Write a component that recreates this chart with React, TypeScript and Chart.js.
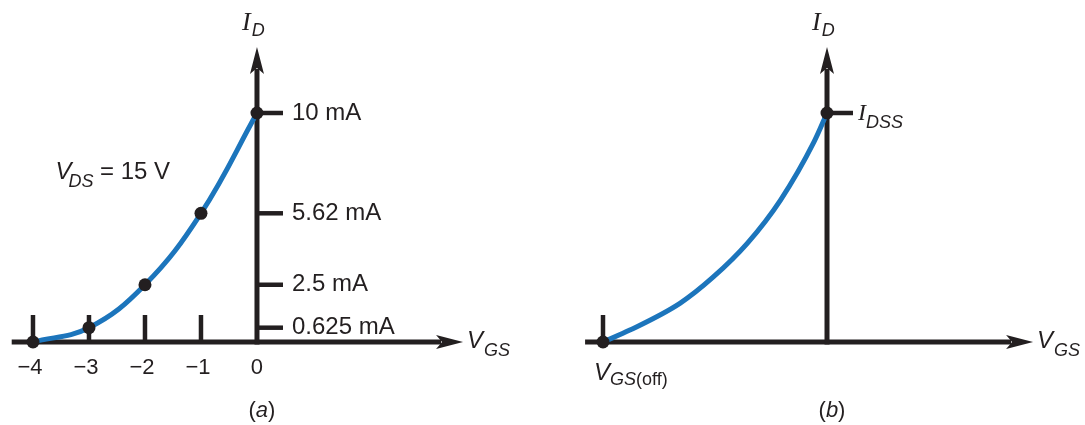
import React, { useEffect, useRef } from "react";
import { Chart, registerables } from "chart.js";

Chart.register(...registerables);

// ---------- data ----------
// (a) transfer characteristic, VDS = 15 V
const vgsA = [-4, -3, -2, -1, 0];
const idA = [0, 0.625, 2.5, 5.62, 10];
const markA = [true, true, true, true, true];
const xTicksA = [-4, -3, -2, -1];
const xTickLabelValuesA = [-4, -3, -2, -1, 0];
const xTickLabelsA = ["−4", "−3", "−2", "−1", "0"];
const yTicksA = [0.625, 2.5, 5.62, 10];
const yTickLabelsA = ["0.625 mA", "2.5 mA", "5.62 mA", "10 mA"];

// (b) generic curve (VGS(off) .. 0 on the same scale)
const vgsB = [-4, -3.52, -2.62, -2.03, -1.42, -0.83, -0.23, 0];
const idB = [0, 0.52, 1.7, 2.84, 4.32, 6.2, 8.75, 10];
const markB = [true, false, false, false, false, false, false, true];
const xTicksB = [-4];
const yTicksB = [10];

const INK = "#231f20";
const BLUE = "#1c75bc";
const SANS = '"Liberation Sans", Arial, Helvetica, sans-serif';
const SERIF = '"Liberation Serif", "Times New Roman", serif';

type Seg = { t: string; font: string; dy?: number; dx?: number };

function drawRich(ctx: CanvasRenderingContext2D, x: number, y: number, segs: Seg[]) {
  let cx = x;
  for (const s of segs) {
    ctx.font = s.font;
    cx += s.dx || 0;
    ctx.fillText(s.t, cx, y + (s.dy || 0));
    cx += ctx.measureText(s.t).width;
  }
  return cx;
}

function arrow(ctx: CanvasRenderingContext2D, x: number, y: number, dir: "up" | "right") {
  ctx.beginPath();
  if (dir === "right") {
    ctx.moveTo(x, y);
    ctx.lineTo(x - 27, y - 7);
    ctx.lineTo(x - 21, y);
    ctx.lineTo(x - 27, y + 7);
  } else {
    ctx.moveTo(x, y);
    ctx.lineTo(x - 7, y + 27);
    ctx.lineTo(x, y + 21);
    ctx.lineTo(x + 7, y + 27);
  }
  ctx.closePath();
  ctx.fill();
}

type Spec = {
  panel: "a" | "b";
  xAxisStart: number;
  xAxisEnd: number;
  yAxisEnd: number;
  xTicks: number[];
  yTicks: number[];
};

function axesPlugin(spec: Spec) {
  return {
    id: "axes" + spec.panel,
    beforeDatasetsDraw(chart: any) {
      const ctx: CanvasRenderingContext2D = chart.ctx;
      const xs = chart.scales.x;
      const ys = chart.scales.y;
      const X = (v: number) => xs.getPixelForValue(v);
      const Y = (v: number) => ys.getPixelForValue(v);
      ctx.save();
      ctx.strokeStyle = INK;
      ctx.fillStyle = INK;
      ctx.lineCap = "butt";
      const x0 = X(0);
      const y0 = Y(0);
      const xStart = X(spec.xAxisStart);
      const xEnd = X(spec.xAxisEnd);
      const yEnd = Y(spec.yAxisEnd);

      // axes
      ctx.lineWidth = 5;
      ctx.beginPath();
      ctx.moveTo(xStart, y0);
      ctx.lineTo(xEnd - 22, y0);
      ctx.stroke();
      arrow(ctx, xEnd, y0, "right");
      ctx.beginPath();
      ctx.moveTo(x0, y0 + 2.5);
      ctx.lineTo(x0, yEnd + 22);
      ctx.stroke();
      arrow(ctx, x0, yEnd, "up");

      // tick marks
      ctx.lineWidth = 4.5;
      for (const v of spec.xTicks) {
        const px = X(v);
        ctx.beginPath();
        ctx.moveTo(px, y0);
        ctx.lineTo(px, y0 - 27);
        ctx.stroke();
      }
      for (const v of spec.yTicks) {
        const py = Y(v);
        ctx.beginPath();
        ctx.moveTo(x0, py);
        ctx.lineTo(x0 + 26, py);
        ctx.stroke();
      }

      // axis names
      ctx.textBaseline = "alphabetic";
      ctx.textAlign = "left";
      drawRich(ctx, x0 - 15, yEnd - 17, [
        { t: "I", font: `italic 26px ${SERIF}` },
        { t: "D", font: `italic 18px ${SANS}`, dy: 6, dx: 1 },
      ]);
      drawRich(ctx, xEnd + 4, y0 + 6, [
        { t: "V", font: `italic 24px ${SANS}` },
        { t: "GS", font: `italic 18px ${SANS}`, dy: 8, dx: 1 },
      ]);

      if (spec.panel === "a") {
        // y tick labels
        ctx.font = `24px ${SANS}`;
        ctx.textBaseline = "middle";
        ctx.textAlign = "left";
        yTicksA.forEach((v, i) => ctx.fillText(yTickLabelsA[i], x0 + 35, Y(v)));
        // x tick labels
        ctx.font = `22px ${SANS}`;
        ctx.textAlign = "center";
        xTickLabelValuesA.forEach((v, i) => ctx.fillText(xTickLabelsA[i], X(v) - (v < 0 ? 3 : 0), y0 + 26));
        ctx.textBaseline = "alphabetic";
        ctx.textAlign = "left";
        drawRich(ctx, X(-3.6), Y(7.1), [
          { t: "V", font: `italic 24px ${SANS}` },
          { t: "DS", font: `italic 18px ${SANS}`, dy: 8, dx: -3 },
          { t: " = 15 V", font: `24px ${SANS}` },
        ]);
      } else {
        ctx.textBaseline = "alphabetic";
        ctx.textAlign = "left";
        drawRich(ctx, x0 + 31, Y(10) + 7, [
          { t: "I", font: `italic 24px ${SERIF}` },
          { t: "DSS", font: `italic 18px ${SANS}`, dy: 8, dx: 0 },
        ]);
        drawRich(ctx, X(-4) - 9, y0 + 38, [
          { t: "V", font: `italic 24px ${SANS}` },
          { t: "GS", font: `italic 18px ${SANS}`, dy: 5, dx: 0 },
          { t: "(off)", font: `18px ${SANS}`, dy: 5 },
        ]);
      }

      // panel caption
      ctx.font = `22px ${SANS}`;
      const ca = ctx.measureText("(").width;
      ctx.font = `italic 22px ${SANS}`;
      const cb = ctx.measureText(spec.panel).width;
      const total = ca * 2 + cb;
      drawRich(ctx, x0 + 5 - total / 2, 417, [
        { t: "(", font: `22px ${SANS}` },
        { t: spec.panel, font: `italic 22px ${SANS}` },
        { t: ")", font: `22px ${SANS}` },
      ]);
      ctx.restore();
    },
  };
}

function makeChart(
  canvas: HTMLCanvasElement,
  xs: number[],
  ys: number[],
  marks: boolean[],
  xMin: number,
  xMax: number,
  curve: any,
  spec: Spec
) {
  return new Chart(canvas, {
    type: "scatter",
    data: {
      datasets: [
        {
          data: xs.map((x, i) => ({ x, y: ys[i] })),
          showLine: true,
          borderColor: BLUE,
          borderWidth: 5,
          ...curve,
          pointRadius: marks.map((m) => (m ? 6.5 : 0)),
          pointBackgroundColor: INK,
          pointBorderWidth: 0,
          pointHoverRadius: 0,
        } as any,
      ],
    },
    options: {
      animation: false,
      responsive: false,
      maintainAspectRatio: false,
      events: [],
      layout: { padding: 0, autoPadding: false },
      plugins: { legend: { display: false }, tooltip: { enabled: false } },
      scales: {
        x: { type: "linear", display: false, min: xMin, max: xMax },
        y: { type: "linear", display: false, min: -3.624, max: 14.934 },
      },
    },
    plugins: [axesPlugin(spec) as any],
  });
}

export default function App() {
  const refA = useRef<HTMLCanvasElement>(null);
  const refB = useRef<HTMLCanvasElement>(null);

  useEffect(() => {
    const a = makeChart(refA.current!, vgsA, idA, markA, -4.589, 5.054, { tension: 0.4 }, {
      panel: "a",
      xAxisStart: -4.38,
      xAxisEnd: 3.68,
      yAxisEnd: 12.88,
      xTicks: xTicksA,
      yTicks: yTicksA,
    });
    const b = makeChart(refB.current!, vgsB, idB, markB, -5.125, 4.607, { cubicInterpolationMode: "monotone" }, {
      panel: "b",
      xAxisStart: -4.32,
      xAxisEnd: 3.68,
      yAxisEnd: 12.88,
      xTicks: xTicksB,
      yTicks: yTicksB,
    });
    return () => {
      a.destroy();
      b.destroy();
    };
  }, []);

  return (
    <div style={{ position: "absolute", left: 0, top: 0, width: 1085, height: 425, background: "#fff" }}>
      <canvas ref={refA} width={540} height={425} style={{ position: "absolute", left: 0, top: 0 }} />
      <canvas ref={refB} width={545} height={425} style={{ position: "absolute", left: 540, top: 0 }} />
    </div>
  );
}
